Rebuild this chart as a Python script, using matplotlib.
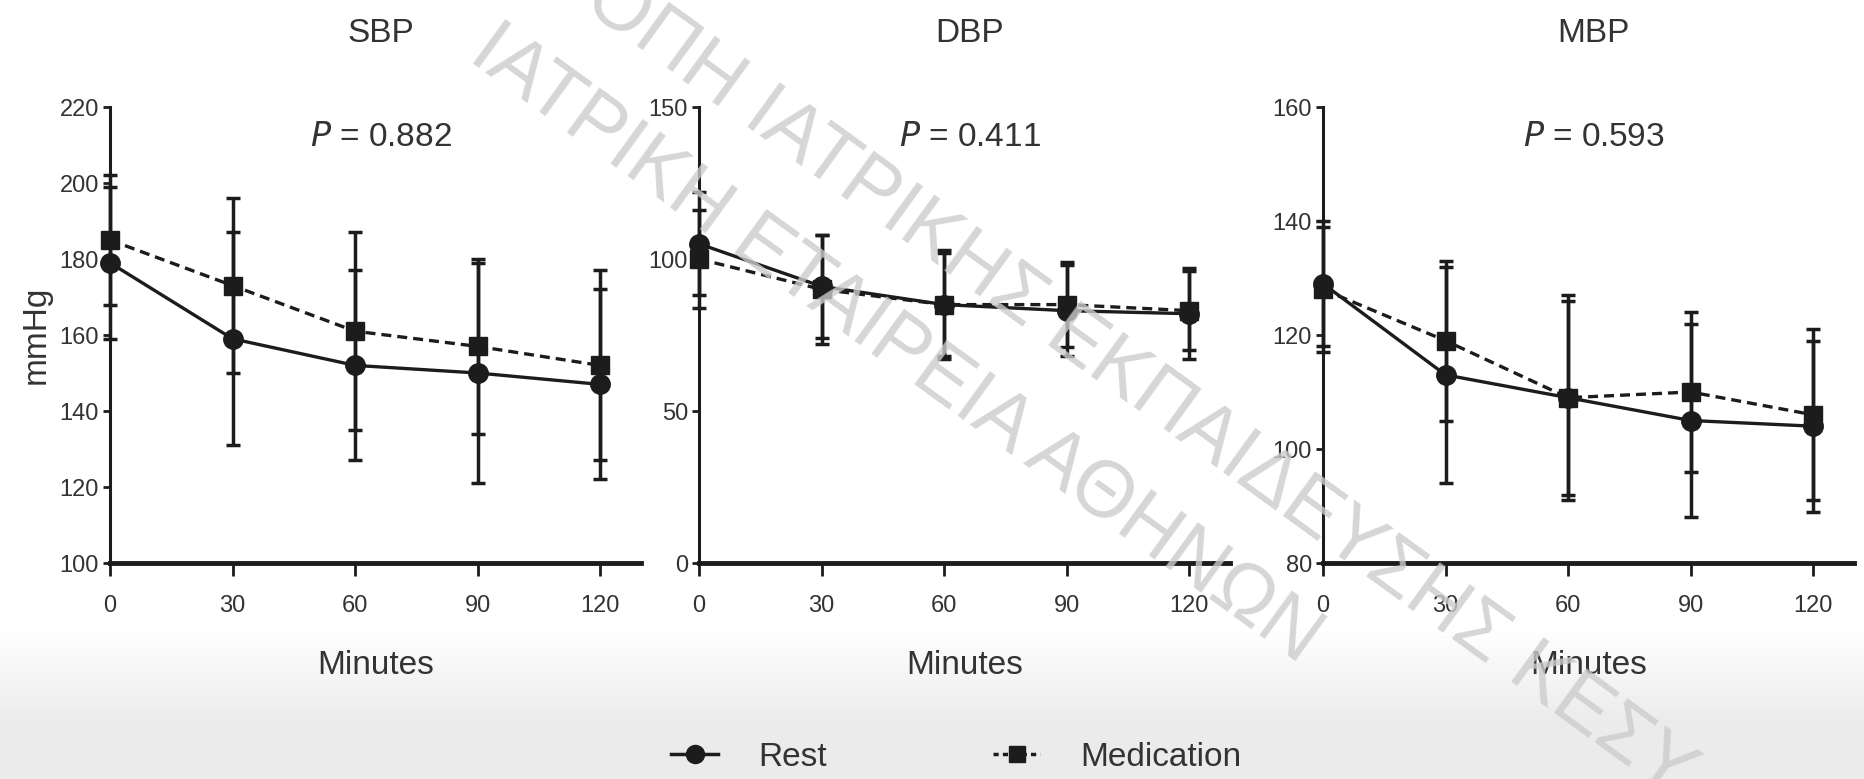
import numpy as np
import matplotlib
matplotlib.use("Agg")
import matplotlib.pyplot as plt
from matplotlib.lines import Line2D

plt.rcParams['font.family'] = ['Liberation Sans Narrow', 'Liberation Sans', 'DejaVu Sans']
plt.rcParams['mathtext.fontset'] = 'custom'
plt.rcParams['mathtext.it'] = 'Liberation Sans Narrow:italic'
plt.rcParams['mathtext.rm'] = 'Liberation Sans Narrow'

# data
minutes = [0, 30, 60, 90, 120]
panels = ['SBP', 'DBP', 'MBP']
p_values = ['0.882', '0.411', '0.593']

sbp_rest = [179, 159, 152, 150, 147]
sbp_rest_sd = [20, 28, 25, 29, 25]
sbp_med = [185, 173, 161, 157, 152]
sbp_med_sd = [17, 23, 26, 23, 25]

dbp_rest = [105, 91, 85, 83, 82]
dbp_rest_sd = [17, 17, 17, 15, 15]
dbp_med = [100, 90, 85, 85, 83]
dbp_med_sd = [16, 18, 18, 14, 13]

mbp_rest = [129, 113, 109, 105, 104]
mbp_rest_sd = [11, 19, 17, 17, 15]
mbp_med = [128, 119, 109, 110, 106]
mbp_med_sd = [11, 14, 18, 14, 15]

y_limits = [(100, 220), (0, 150), (80, 160)]
y_ticks = [[100, 120, 140, 160, 180, 200, 220], [0, 50, 100, 150], [80, 100, 120, 140, 160]]

rest_series = [(sbp_rest, sbp_rest_sd), (dbp_rest, dbp_rest_sd), (mbp_rest, mbp_rest_sd)]
med_series = [(sbp_med, sbp_med_sd), (dbp_med, dbp_med_sd), (mbp_med, mbp_med_sd)]

ink = '#1c1c1c'
txt = '#333333'

W, H = 1864, 779
fig = plt.figure(figsize=(W / 100, H / 100), dpi=100)

# light grey band along the bottom
bg = fig.add_axes([0, 0, 1, 1], zorder=-10)
bg.axis('off')
rows = np.arange(H)
shade = np.clip((rows - 630) / 90, 0, 1)
col = 1 - shade * (1 - 0.925)
img = np.repeat(col[:, None, None], 3, axis=2)
bg.imshow(img, aspect='auto', extent=[0, 1, 0, 1], origin='upper')

lefts = [110 / W, 699 / W, 1323 / W]
bottom = (H - 563) / H
height = 456 / H
width = 531 / W

for i, name in enumerate(panels):
    ax = fig.add_axes([lefts[i], bottom, width, height])
    ax.set_facecolor('none')
    r, rsd = rest_series[i]
    m, msd = med_series[i]
    ax.errorbar(minutes, m, yerr=msd, color=ink, lw=2.4, ls=(0, (3, 1.8)),
                marker='s', ms=13, capsize=5, capthick=2.5, elinewidth=2.5,
                clip_on=False, zorder=3)
    ax.errorbar(minutes, r, yerr=rsd, color=ink, lw=2.4, ls='-',
                marker='o', ms=14, capsize=5, capthick=2.5, elinewidth=2.5,
                clip_on=False, zorder=4)
    ax.set_xlim(0, 130)
    ax.set_ylim(*y_limits[i])
    ax.set_xticks(minutes)
    ax.set_yticks(y_ticks[i])
    for s in ['top', 'right']:
        ax.spines[s].set_visible(False)
    ax.spines['left'].set_linewidth(2.2)
    ax.spines['bottom'].set_linewidth(3.5)
    ax.spines['left'].set_color(ink)
    ax.spines['bottom'].set_color(ink)
    ax.tick_params(axis='x', length=9, width=2, pad=14, labelsize=17, colors=ink, labelcolor=txt)
    ax.tick_params(axis='y', length=5, width=2, pad=3, labelsize=17, colors=ink, labelcolor=txt)
    ax.set_xlabel('Minutes', fontsize=24, color=txt)
    ax.xaxis.set_label_coords(0.5, -0.19)
    if i == 0:
        ax.set_ylabel('mmHg', fontsize=24, color=txt)
        ax.yaxis.set_label_coords(-0.11, 0.5)
    ax.text(0.51, 1.162, name, transform=ax.transAxes, ha='center', va='center',
            fontsize=24, color=txt)
    ax.text(0.51, 0.934, r'$P$ = ' + p_values[i], transform=ax.transAxes,
            ha='center', va='center', fontsize=24, color=txt)

handles = [
    Line2D([], [], color=ink, lw=2.5, marker='o', ms=13),
    Line2D([], [], color=ink, lw=2.5, ls=(0, (1.5, 1.2)), marker='s', ms=12),
]
fig.legend(handles, ['Rest', 'Medication'], loc='center', bbox_to_anchor=(0.513, 0.028),
           ncol=2, frameon=False, fontsize=24, handlelength=1.4, columnspacing=5,
           handletextpad=1.2, labelcolor=txt)

# watermark
wm = dict(fontsize=57, color='#cccccc', alpha=0.8, rotation=-36, ha='center', va='center',
          rotation_mode='anchor', family=['Liberation Sans', 'DejaVu Sans'], zorder=20)
fig.text(1045 / W, 1 - 318 / H, 'ΕΠΙΤΡΟΠΗ ΙΑΤΡΙΚΗΣ ΕΚΠΑΙΔΕΥΣΗΣ ΚΕΣΥ', **wm)
fig.text(895 / W, 1 - 345 / H, 'ΙΑΤΡΙΚΗ ΕΤΑΙΡΕΙΑ ΑΘΗΝΩΝ', **wm)

fig.savefig('out.png', dpi=100)
